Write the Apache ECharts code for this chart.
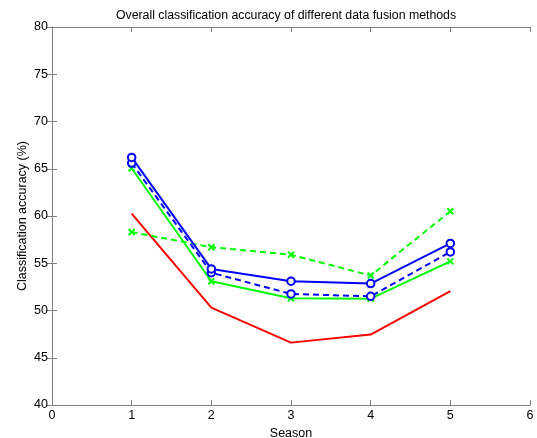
<!DOCTYPE html>
<html>
<head>
<meta charset="utf-8">
<script src="https://cdn.jsdelivr.net/npm/echarts@6/dist/echarts.min.js"></script>
<style>
  html, body { margin: 0; padding: 0; background: #fff; }
  #chart { width: 537px; height: 438px; }
</style>
</head>
<body>
<div id="chart"></div>
<script>
// season 1..5
const seasons = [1, 2, 3, 4, 5];
// accuracy (%) per method
const blueSolid = [66.2, 54.4, 53.1, 52.85, 57.1];
const blueDashed = [65.6, 54.0, 51.75, 51.5, 56.2];
const greenSolid = [65.05, 53.1, 51.3, 51.25, 55.2];
const greenDashed = [58.3, 56.7, 55.9, 53.7, 60.5];
const redSolid = [60.25, 50.3, 46.6, 47.45, 52.05];

const font = "Liberation Sans, Arial, sans-serif";
const crossSym = "path://M0,0L10,10M10,0L0,10";

function pts(vals) {
  return seasons.map((s, i) => [s, vals[i]]);
}

function mkSeries(vals, color, dashed, symbol) {
  return {
    type: "line",
    data: pts(vals),
    showSymbol: symbol !== "none",
    symbol: symbol === "x" ? crossSym : (symbol === "o" ? "emptyCircle" : "none"),
    symbolSize: symbol === "x" ? 6 : 7.5,
    lineStyle: { color: color, width: 2, type: dashed ? [6, 4] : "solid" },
    itemStyle: { color: color, borderColor: color, borderWidth: 2 },
    animation: false,
    z: 3
  };
}

const axisLine = { lineStyle: { color: "#7f7f7f", width: 1 } };
const tickIn = { inside: true, length: 5, lineStyle: { color: "#7f7f7f" } };

const chart = echarts.init(document.getElementById("chart"));
chart.setOption({
  animation: false,
  title: {
    text: "Overall classification accuracy of different data fusion methods",
    left: 281, top: 5, textAlign: "center",
    textStyle: { fontFamily: font, fontSize: 12.3, fontWeight: "normal", color: "#000" }
  },
  grid: { left: 52, right: 7, top: 27, bottom: 33, outerBoundsMode: "none" },
  xAxis: [
    {
      type: "value", min: 0, max: 6, interval: 1, position: "bottom",
      name: "Season", nameLocation: "middle", nameGap: 19,
      nameTextStyle: { fontFamily: font, fontSize: 12.5, color: "#000" },
      axisLine: axisLine, axisTick: tickIn, splitLine: { show: false },
      axisLabel: { fontFamily: font, fontSize: 12.5, color: "#000", margin: 4 }
    },
    {
      type: "value", min: 0, max: 6, interval: 1, position: "top",
      axisLine: axisLine, axisTick: tickIn, splitLine: { show: false },
      axisLabel: { show: false }
    }
  ],
  yAxis: [
    {
      type: "value", min: 40, max: 80, interval: 5, position: "left",
      name: "Classification accuracy (%)", nameLocation: "middle", nameGap: 23,
      nameMoveOverlap: false,
      nameTextStyle: { fontFamily: font, fontSize: 12.5, color: "#000" },
      axisLine: axisLine, axisTick: tickIn, splitLine: { show: false },
      axisLabel: { fontFamily: font, fontSize: 12.5, color: "#000", margin: 4 }
    },
    {
      type: "value", min: 40, max: 80, interval: 5, position: "right",
      axisLine: axisLine, axisTick: tickIn, splitLine: { show: false },
      axisLabel: { show: false }
    }
  ],
  series: [
    mkSeries(redSolid, "#ff0000", false, "none"),
    mkSeries(greenSolid, "#00ff00", false, "x"),
    mkSeries(greenDashed, "#00ff00", true, "x"),
    mkSeries(blueDashed, "#0000ff", true, "o"),
    mkSeries(blueSolid, "#0000ff", false, "o")
  ]
});
</script>
</body>
</html>
